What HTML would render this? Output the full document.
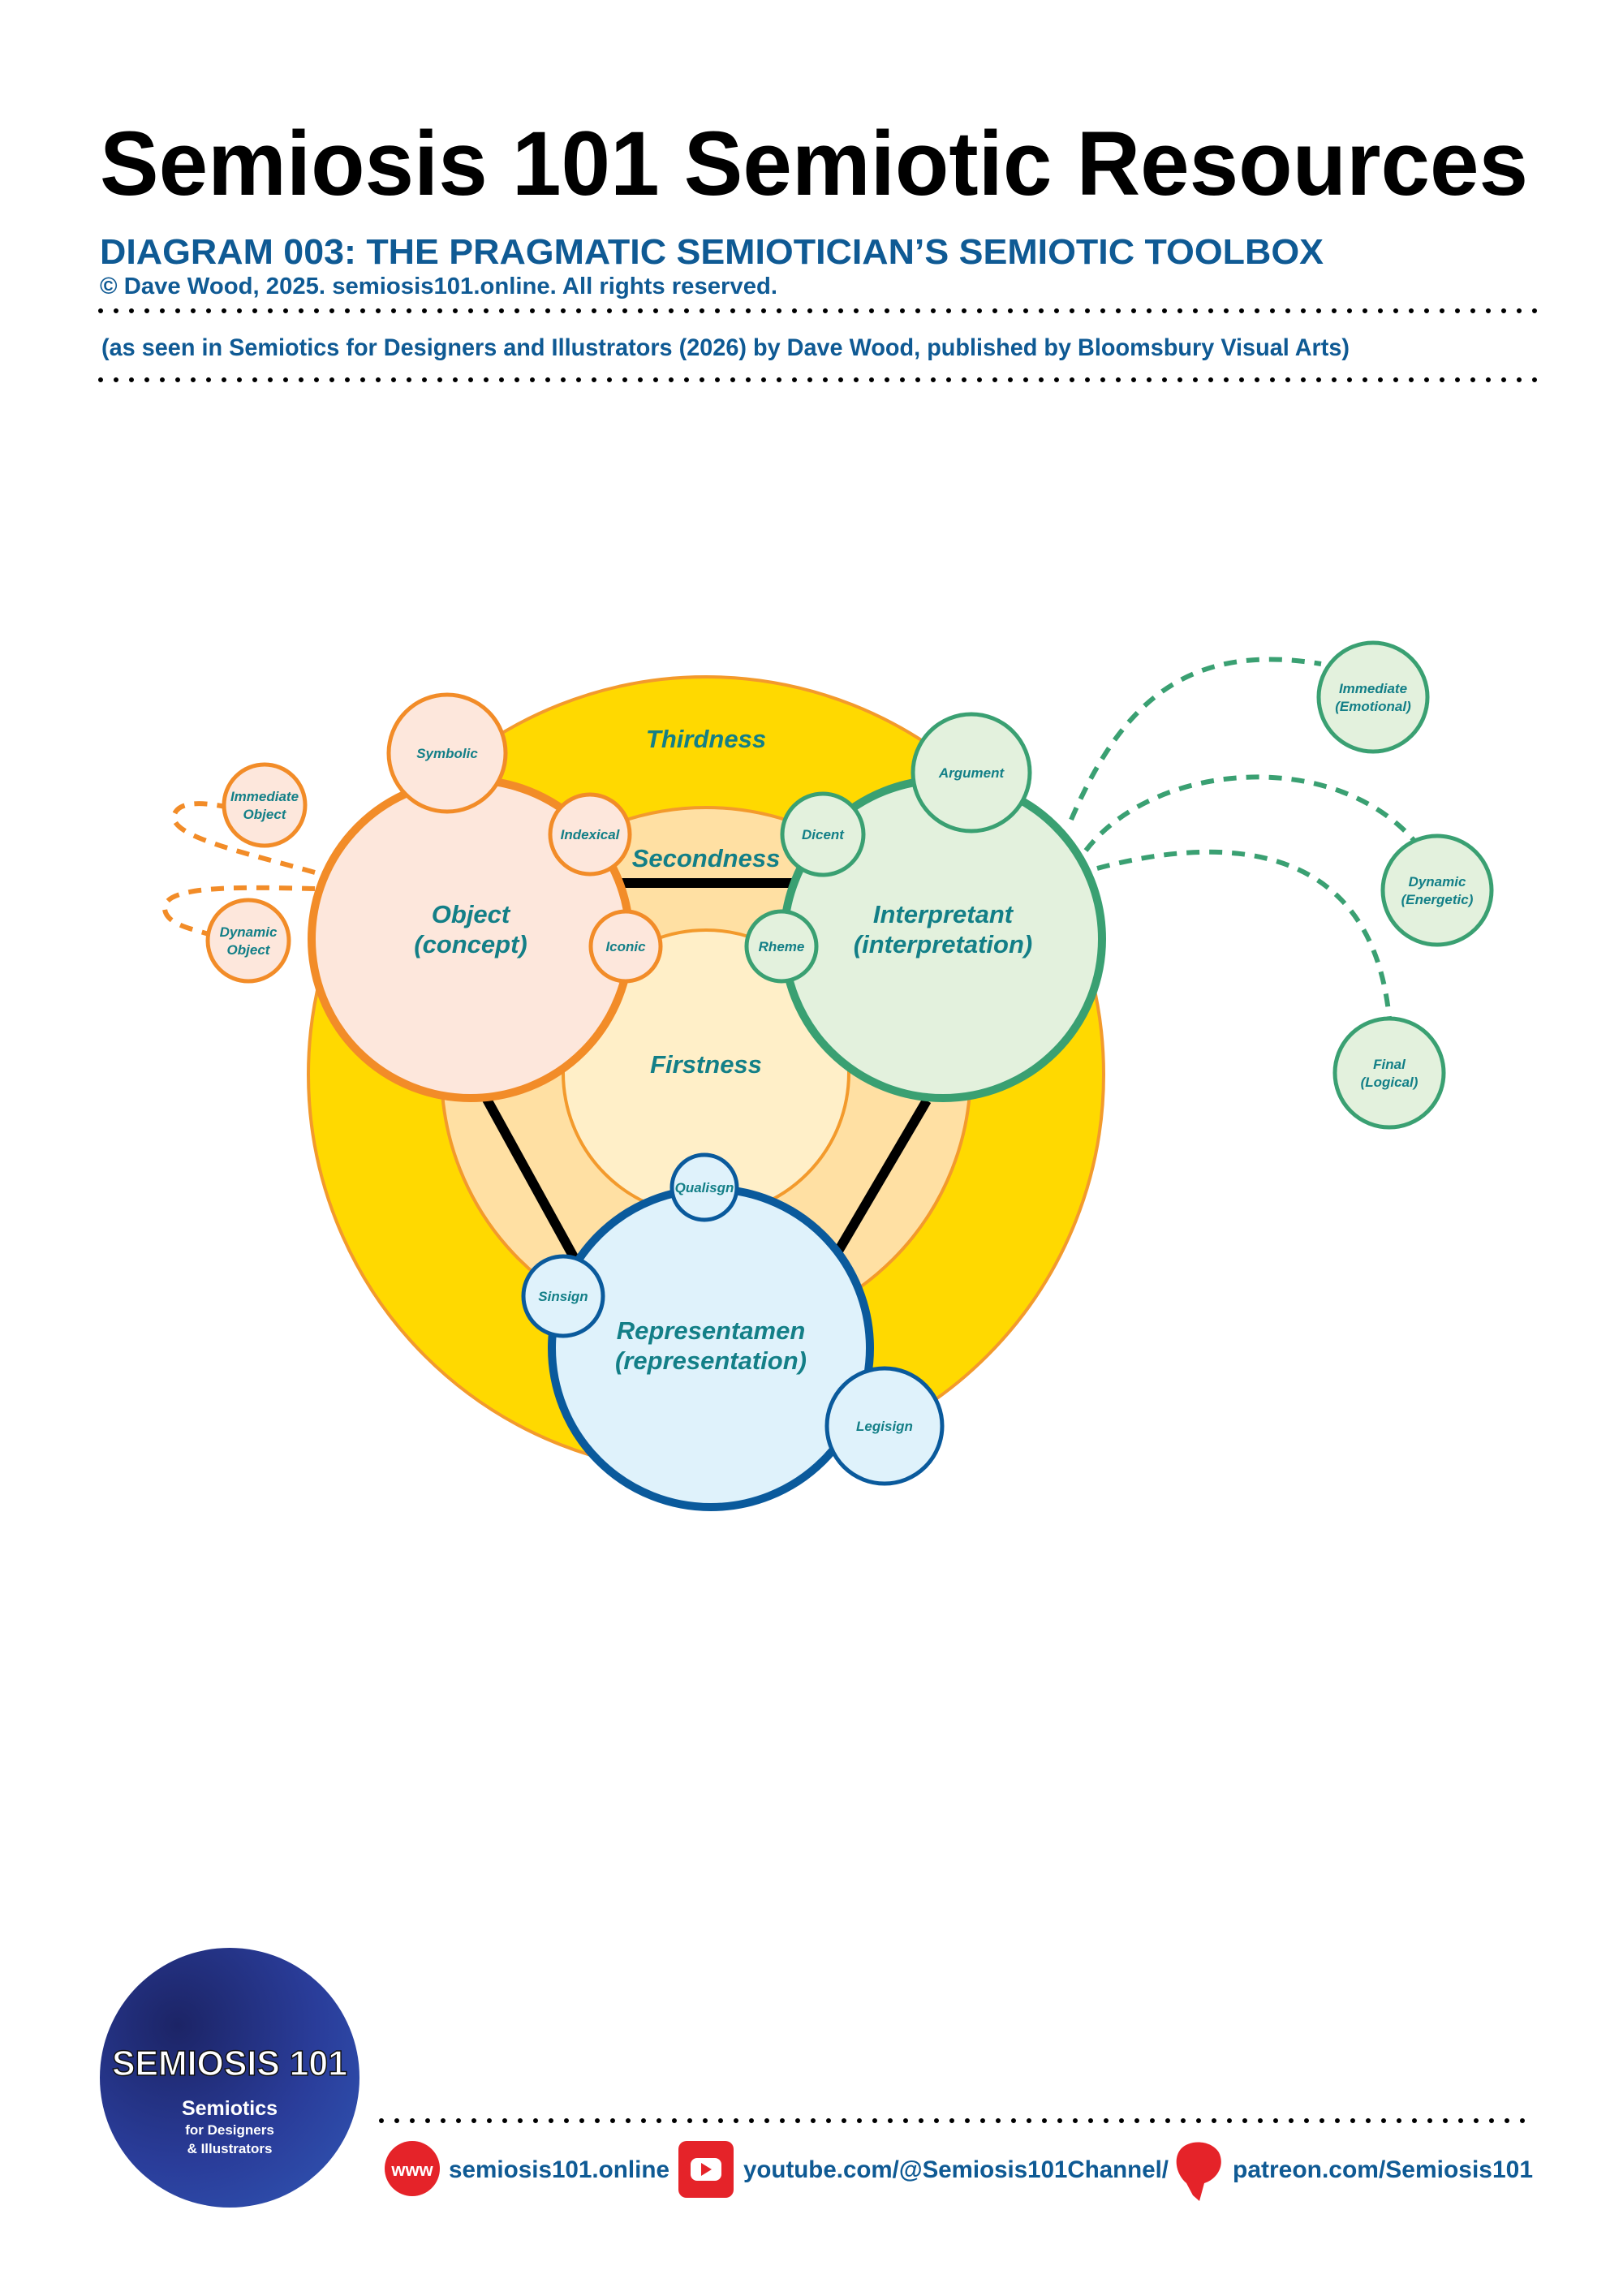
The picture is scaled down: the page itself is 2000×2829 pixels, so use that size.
<!DOCTYPE html>
<html><head><meta charset="utf-8"><style>
html,body{margin:0;padding:0;background:#fff}
svg{display:block}
text{font-family:"Liberation Sans",sans-serif}
.t{fill:#137f87;font-weight:bold;font-style:italic;text-anchor:middle}
</style></head><body>
<svg width="2000" height="2829" viewBox="0 0 2000 2829" xmlns="http://www.w3.org/2000/svg">
<defs>
<radialGradient id="lg" cx="0.3" cy="0.3" r="0.9">
<stop offset="0" stop-color="#1c2466"/><stop offset="0.6" stop-color="#2a3d9a"/><stop offset="1" stop-color="#2f52b0"/>
</radialGradient>
</defs>
<!-- header -->
<text x="123" y="240" font-size="112" font-weight="bold" fill="#000" textLength="1760" lengthAdjust="spacingAndGlyphs">Semiosis 101 Semiotic Resources</text>
<text x="123" y="325" font-size="44" font-weight="bold" fill="#0f5a94" textLength="1508" lengthAdjust="spacingAndGlyphs">DIAGRAM 003: THE PRAGMATIC SEMIOTICIAN’S SEMIOTIC TOOLBOX</text>
<text x="123" y="362" font-size="29" font-weight="bold" fill="#0f5a94" textLength="835" lengthAdjust="spacingAndGlyphs">© Dave Wood, 2025. semiosis101.online. All rights reserved.</text>
<line x1="124" y1="383" x2="1895" y2="383" stroke="#000" stroke-width="6" stroke-linecap="round" stroke-dasharray="0 19"/>
<text x="125" y="438" font-size="30" font-weight="bold" fill="#0f5a94" textLength="1538" lengthAdjust="spacingAndGlyphs">(as seen in Semiotics for Designers and Illustrators (2026) by Dave Wood, published by Bloomsbury Visual Arts)</text>
<line x1="124" y1="468" x2="1895" y2="468" stroke="#000" stroke-width="6" stroke-linecap="round" stroke-dasharray="0 19"/>

<!-- concentric -->
<circle cx="870" cy="1324" r="490" fill="#ffd900" stroke="#f39a2c" stroke-width="4"/>
<circle cx="870" cy="1321" r="326" fill="#ffe0a3" stroke="#f39a2c" stroke-width="4"/>
<circle cx="870" cy="1322" r="176" fill="#ffefc8" stroke="#f39a2c" stroke-width="4"/>

<!-- black lines -->
<line x1="760" y1="1088" x2="985" y2="1088" stroke="#000" stroke-width="12"/>
<line x1="598" y1="1351" x2="712" y2="1558" stroke="#000" stroke-width="12"/>
<line x1="1142" y1="1356" x2="1028" y2="1550" stroke="#000" stroke-width="12"/>

<!-- dashed curves -->
<g fill="none" stroke-width="6" stroke-dasharray="16 12">
<path d="M388,1075 C300,1050 205,1030 215,1003 C222,985 258,990 278,994" stroke="#f28c28"/>
<path d="M388,1095 C300,1093 200,1090 203,1120 C205,1140 240,1145 260,1152" stroke="#f28c28"/>
<path d="M1320,1010 C1380,870 1460,790 1628,818" stroke="#3aa072"/>
<path d="M1338,1048 C1420,940 1640,920 1742,1035" stroke="#3aa072"/>
<path d="M1352,1070 C1500,1030 1690,1030 1712,1255" stroke="#3aa072"/>
</g>

<!-- Object -->
<circle cx="580" cy="1157" r="196" fill="#fde7dc" stroke="#f28c28" stroke-width="10"/>
<g fill="#fde7dc" stroke="#f28c28" stroke-width="5">
<circle cx="551" cy="928" r="72"/>
<circle cx="727" cy="1028" r="49"/>
<circle cx="771" cy="1166" r="43"/>
<circle cx="326" cy="992" r="50"/>
<circle cx="306" cy="1159" r="50"/>
</g>
<!-- Interpretant -->
<circle cx="1162" cy="1157" r="196" fill="#e3f1dd" stroke="#3aa072" stroke-width="10"/>
<g fill="#e3f1dd" stroke="#3aa072" stroke-width="5">
<circle cx="1197" cy="952" r="72"/>
<circle cx="1014" cy="1028" r="50"/>
<circle cx="963" cy="1166" r="43"/>
<circle cx="1692" cy="859" r="67"/>
<circle cx="1771" cy="1097" r="67"/>
<circle cx="1712" cy="1322" r="67"/>
</g>
<!-- Representamen -->
<circle cx="876" cy="1661" r="196" fill="#dff2fb" stroke="#0a5a9c" stroke-width="10"/>
<g fill="#dff2fb" stroke="#0a5a9c" stroke-width="5">
<circle cx="868" cy="1463" r="40"/>
<circle cx="694" cy="1597" r="49"/>
<circle cx="1090" cy="1757" r="71"/>
</g>

<!-- labels -->
<g class="t" font-size="31">
<text x="870" y="921">Thirdness</text>
<text x="870" y="1068">Secondness</text>
<text x="870" y="1322">Firstness</text>
<text x="580" y="1137">Object</text>
<text x="580" y="1174">(concept)</text>
<text x="1162" y="1137">Interpretant</text>
<text x="1162" y="1174">(interpretation)</text>
<text x="876" y="1650">Representamen</text>
<text x="876" y="1687">(representation)</text>
</g>
<g class="t" font-size="17">
<text x="551" y="934">Symbolic</text>
<text x="727" y="1034">Indexical</text>
<text x="771" y="1172">Iconic</text>
<text x="326" y="987">Immediate</text>
<text x="326" y="1009">Object</text>
<text x="306" y="1154">Dynamic</text>
<text x="306" y="1176">Object</text>
<text x="1197" y="958">Argument</text>
<text x="1014" y="1034">Dicent</text>
<text x="963" y="1172">Rheme</text>
<text x="1692" y="854">Immediate</text>
<text x="1692" y="876">(Emotional)</text>
<text x="1771" y="1092">Dynamic</text>
<text x="1771" y="1114">(Energetic)</text>
<text x="1712" y="1317">Final</text>
<text x="1712" y="1339">(Logical)</text>
<text x="868" y="1469">Qualisgn</text>
<text x="694" y="1603">Sinsign</text>
<text x="1090" y="1763">Legisign</text>
</g>

<!-- footer logo -->
<circle cx="283" cy="2560" r="160" fill="url(#lg)"/>
<text x="283" y="2557" font-size="44" font-weight="bold" fill="#fff" text-anchor="middle" stroke="#111" stroke-width="1.5" textLength="290" lengthAdjust="spacingAndGlyphs">SEMIOSIS 101</text>
<text x="283" y="2606" font-size="25" font-weight="bold" fill="#fff" text-anchor="middle">Semiotics</text>
<text x="283" y="2630" font-size="17" font-weight="bold" fill="#fff" text-anchor="middle">for Designers</text>
<text x="283" y="2653" font-size="17" font-weight="bold" fill="#fff" text-anchor="middle">&amp; Illustrators</text>

<line x1="470" y1="2613" x2="1895" y2="2613" stroke="#000" stroke-width="6" stroke-linecap="round" stroke-dasharray="0 19"/>

<circle cx="508" cy="2672" r="34" fill="#e52329"/>
<text x="508" y="2681" font-size="22" font-weight="bold" fill="#fff" text-anchor="middle">www</text>
<text x="553" y="2683" font-size="30" font-weight="bold" fill="#0f5a94" textLength="272" lengthAdjust="spacingAndGlyphs">semiosis101.online</text>

<rect x="836" y="2638" width="68" height="70" rx="10" fill="#e52329"/>
<rect x="851" y="2659" width="38" height="28" rx="8" fill="#fff"/>
<path d="M864,2665 L877,2673 L864,2681 Z" fill="#e52329"/>
<text x="916" y="2683" font-size="30" font-weight="bold" fill="#0f5a94" textLength="524" lengthAdjust="spacingAndGlyphs">youtube.com/@Semiosis101Channel/</text>

<path d="M1470,2705 L1462,2690 C1450,2680 1445,2660 1455,2648 C1465,2636 1492,2636 1502,2652 C1510,2668 1500,2685 1484,2690 L1478,2712 Z" fill="#e52329"/>
<text x="1519" y="2683" font-size="30" font-weight="bold" fill="#0f5a94" textLength="370" lengthAdjust="spacingAndGlyphs">patreon.com/Semiosis101</text>
</svg>
</body></html>
